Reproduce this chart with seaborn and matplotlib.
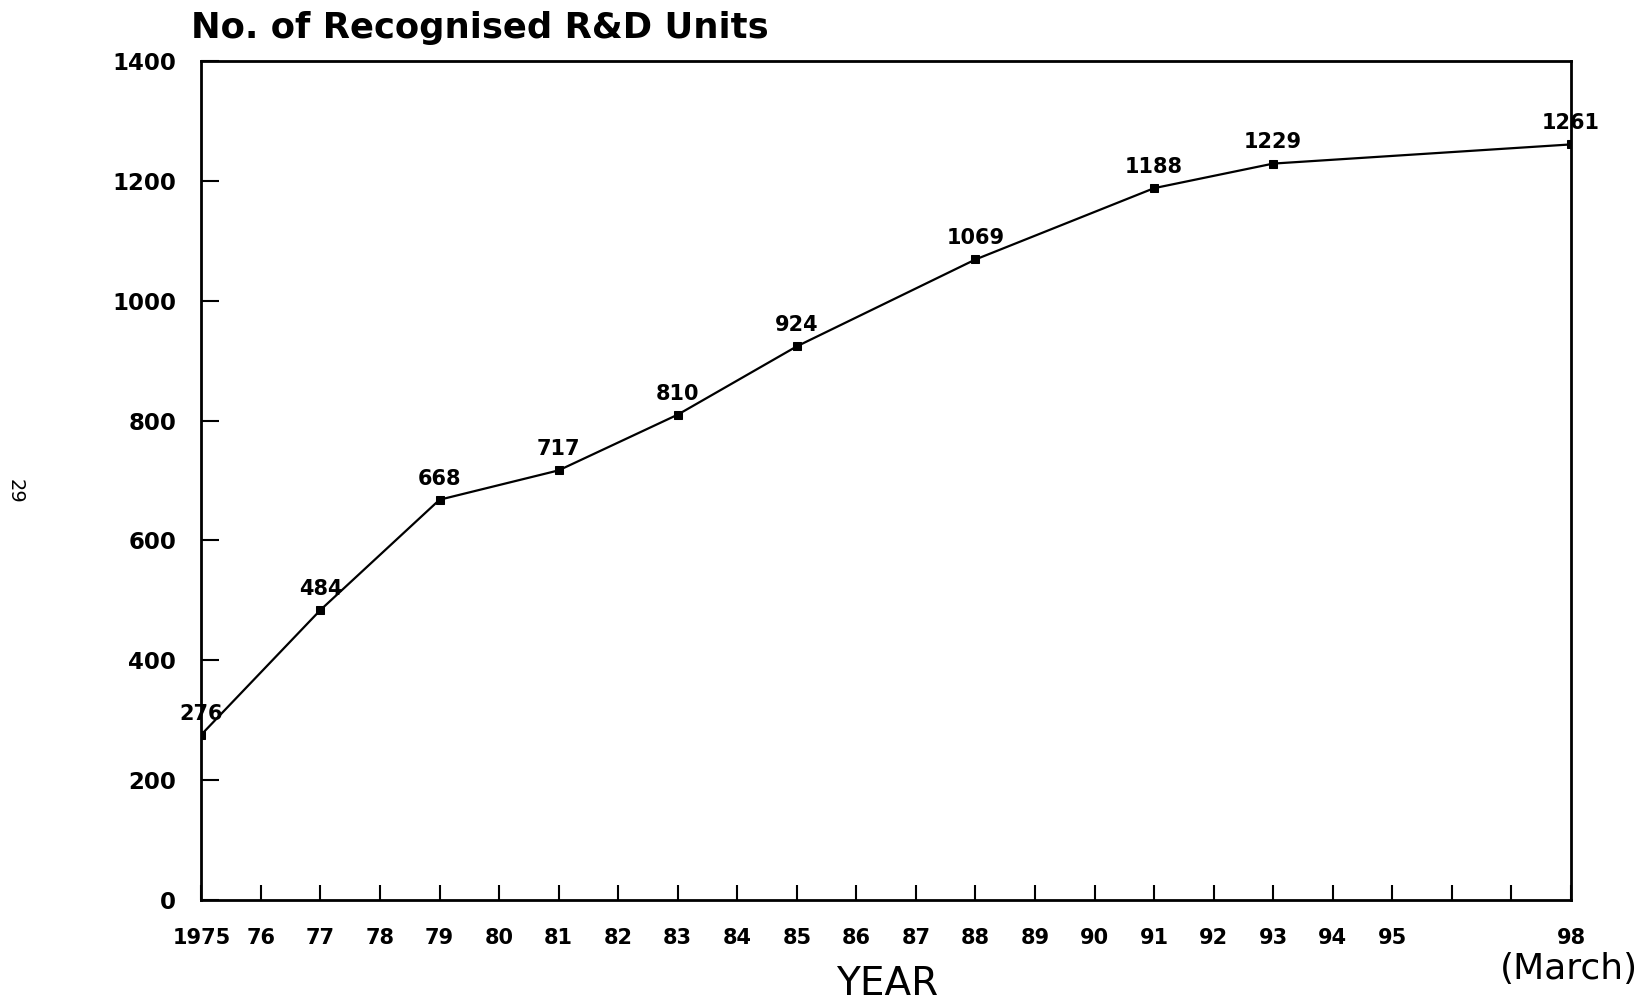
import matplotlib
matplotlib.use("Agg")
import matplotlib.pyplot as plt
import seaborn as sns
import pandas as pd

years = [1975, 1977, 1979, 1981, 1983, 1985, 1988, 1991, 1993, 1998]
units = [276, 484, 668, 717, 810, 924, 1069, 1188, 1229, 1261]
tick_years = list(range(1975, 1999))
tick_labels = ["1975", "76", "77", "78", "79", "80", "81", "82", "83", "84", "85",
               "86", "87", "88", "89", "90", "91", "92", "93", "94", "95", "", "", "98"]
y_ticks = [0, 200, 400, 600, 800, 1000, 1200, 1400]

sns.set_style("ticks")
plt.rcParams['font.family'] = ['DejaVu Sans']
plt.rcParams['text.color'] = 'black'
plt.rcParams['xtick.color'] = 'black'
plt.rcParams['ytick.color'] = 'black'
plt.rcParams['xtick.labelcolor'] = 'black'
plt.rcParams['ytick.labelcolor'] = 'black'

df = pd.DataFrame({"year": years, "units": units})

fig = plt.figure(figsize=(16.45, 10.02), dpi=100)
ax = fig.add_axes([0.1224, 0.1018, 0.8326, 0.8372])
sns.lineplot(data=df, x="year", y="units", ax=ax, color="black", linewidth=1.6,
             marker="s", markersize=5.5, markeredgecolor="black")

ax.set_xlim(1975, 1998)
ax.set_ylim(0, 1400)
ax.set_xticks(tick_years)
ax.set_xticklabels(tick_labels, fontsize=15, fontweight="bold")
ax.set_yticks(y_ticks)
ax.set_yticklabels([str(v) for v in y_ticks], fontsize=16.5, fontweight="bold")
ax.tick_params(axis="x", direction="in", length=11, width=1.5, pad=20)
ax.tick_params(axis="y", direction="in", length=13, width=1.5, pad=18)
for s in ax.spines.values():
    s.set_linewidth(2)
    s.set_color("black")
ax.set_xlabel("")
ax.set_ylabel("")

for x, y in zip(years, units):
    ax.annotate(str(y), (x, y), xytext=(0, 8), textcoords="offset points",
                ha="center", va="bottom", fontsize=15, fontweight="bold")

fig.text(0.116, 0.972, "No. of Recognised R&D Units", fontsize=25.5,
         fontweight="bold", ha="left", va="center")
fig.text(0.539, 0.018, "YEAR", fontsize=28, ha="center", va="center")
fig.text(0.996, 0.033, "(March)", fontsize=26, ha="right", va="center")
fig.text(0.009, 0.51, "29", fontsize=14, rotation=270, ha="center", va="center")

fig.savefig("out.png", dpi=100)
